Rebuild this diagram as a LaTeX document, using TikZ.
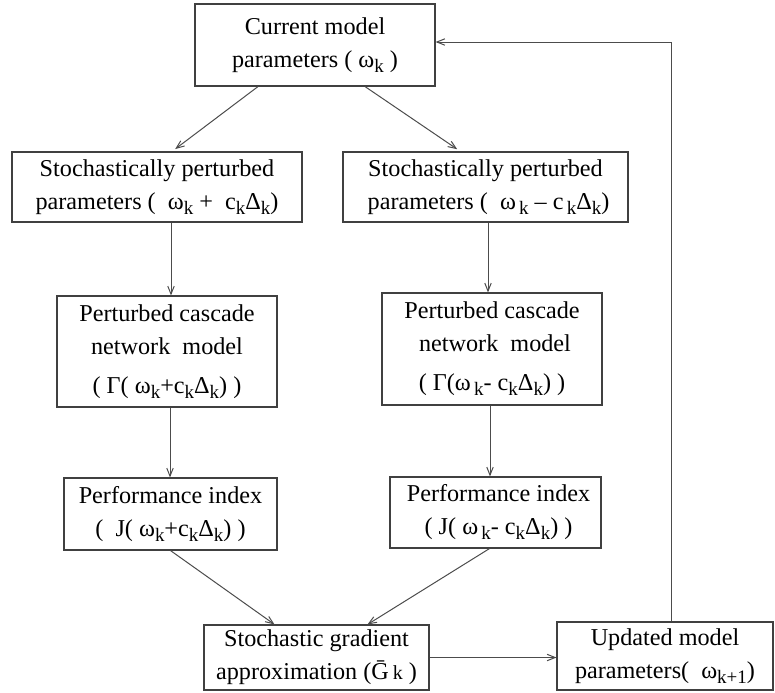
\documentclass[tikz,border=0pt]{standalone}
\usepackage{fontspec}
\setmainfont{Liberation Serif}
\usetikzlibrary{arrows.meta}
\newcommand{\lo}[1]{\raisebox{-0.45ex}{\fontsize{9.5}{9.5}\selectfont #1}}

\begin{document}
\begin{tikzpicture}
    [x=0.5pt, y=-0.5pt,
    flow/.style={draw=black!70, line width=0.5pt, -{Straight Barb[length=4pt, width=3.2pt, line width=0.5pt]}},
    block/.style={draw=black!75, line width=0.55pt, rectangle, align=center, inner sep=0pt,
        font=\fontsize{12.1}{16.5}\selectfont}]
        \useasboundingbox (0,0) rectangle (775,692);
        %% blocks
        \node[block, minimum width=120pt, minimum height=41pt] (cur) at (315,45)
            {Current model\\parameters ( ω\lo{k} )};
        \node[block, minimum width=145pt, minimum height=35pt] (spL) at (157,187)
            {Stochastically perturbed\\parameters (\ \ ω\lo{k} + \ c\lo{k}Δ\lo{k})};
        \node[block, minimum width=142.5pt, minimum height=35pt] (spR) at (485.5,187)
            {Stochastically perturbed\\\ parameters (\ \ ω\lo{\,k} – c\lo{\,k}Δ\lo{k})};
        \node[block, minimum width=110pt, minimum height=55.5pt] (cmL) at (167,351.5)
            {Perturbed cascade\\network\ \ model\\[3pt]( Γ( ω\lo{k}+c\lo{k}Δ\lo{k}) )};
        \node[block, minimum width=110pt, minimum height=56pt] (cmR) at (492,349)
            {Perturbed cascade\\\ network\ \ model\\[3pt]( Γ(ω\lo{\,k}- c\lo{k}Δ\lo{k}) )};
        \node[block, minimum width=106.5pt, minimum height=36pt] (piL) at (170.5,514)
            {Performance index\\(\ \ J( ω\lo{k}+c\lo{k}Δ\lo{k}) )};
        \node[block, minimum width=105.5pt, minimum height=35.5pt] (piR) at (495.5,512.5)
            {\ Performance index\\\ ( J( ω\lo{\,k}- c\lo{k}Δ\lo{k}) )};
        \node[block, minimum width=112.5pt, minimum height=32.5pt] (grad) at (316.5,657.5)
            {Stochastic gradient\\approximation (\=G\,{\fontsize{10}{10}\selectfont k} )};
        \node[block, minimum width=108pt, minimum height=34pt] (upd) at (665,656)
            {Updated model\\parameters(\ \ ω\lo{k+1})};

        %% connectors
        \draw[flow, shorten >=2pt] ([xshift=-28.5pt]cur.south) to ([xshift=7.5pt]spL.north);
        \draw[flow, shorten >=2pt] ([xshift=25pt]cur.south) to ([xshift=-12.5pt]spR.north);
        \draw[flow] ([xshift=7pt]spL.south) to ([xshift=7pt]spL.south |- cmL.north);
        \draw[flow] ([xshift=1.25pt]spR.south) to ([xshift=1.25pt]spR.south |- cmR.north);
        \draw[flow] ([xshift=1.5pt]cmL.south) to ([xshift=1.5pt]cmL.south |- piL.north);
        \draw[flow] ([xshift=-1pt]cmR.south) to ([xshift=-1pt]cmR.south |- piR.north);
        \draw[flow] (piL.south) to ([xshift=-21pt]grad.north);
        \draw[flow] ([xshift=-3pt]piR.south) to ([xshift=25.5pt]grad.north);
        \draw[flow] (grad.east) to (grad.east -| upd.west);
        \draw[flow] ([xshift=3pt]upd.north) |- ([yshift=1.5pt]cur.east);
\end{tikzpicture}
\end{document}
